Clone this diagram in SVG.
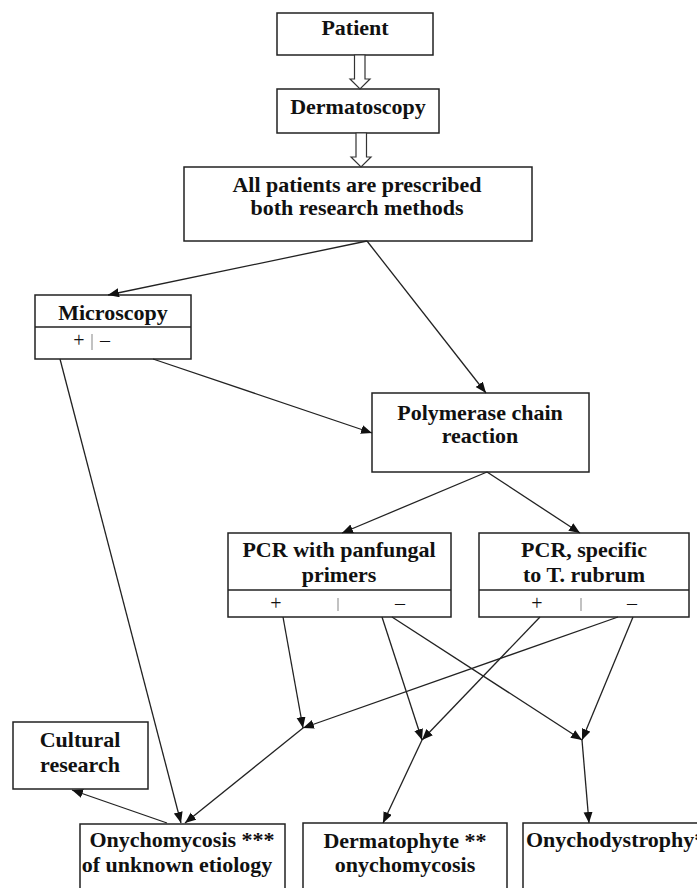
<svg xmlns="http://www.w3.org/2000/svg" width="697" height="888" viewBox="0 0 697 888">
<style>
.box{fill:#fff;stroke:#222;stroke-width:1.5}
.t{font-family:"Liberation Serif","Times New Roman",serif;font-weight:bold;font-size:22px;fill:#111;text-anchor:middle}
.s{font-family:"Liberation Serif","Times New Roman",serif;font-size:20px;fill:#111;text-anchor:middle}
.bar{stroke:#999;stroke-width:1.2}
.c{stroke:#222;stroke-width:1.3;fill:none;marker-end:url(#ah)}
.hollow{fill:#fff;stroke:#333;stroke-width:1.2}
</style>
<defs>
<marker id="ah" markerUnits="userSpaceOnUse" markerWidth="12" markerHeight="10" refX="11" refY="4.5" orient="auto">
<path d="M0,0 L11,4.5 L0,9 z" fill="#111"/>
</marker>
</defs>
<rect width="697" height="888" fill="#fff"/>

<g id="patient">
<rect class="box" x="277" y="13" width="156" height="42"/>
<text class="t" x="355" y="35">Patient</text>
</g>
<g id="dermatoscopy">
<rect class="box" x="277" y="89" width="162" height="44"/>
<text class="t" x="358" y="114">Dermatoscopy</text>
</g>
<g id="all-patients">
<rect class="box" x="184" y="167" width="348" height="74"/>
<text class="t" x="357" y="192">All patients are prescribed</text>
<text class="t" x="357" y="215">both research methods</text>
</g>
<g id="microscopy">
<rect class="box" x="35" y="295" width="156" height="64"/>
<line x1="35" y1="327" x2="191" y2="327" stroke="#222" stroke-width="1.5"/>
<text class="t" x="113" y="320">Microscopy</text>
<text class="s" x="79" y="347">+</text>
<line class="bar" x1="92" y1="334" x2="92" y2="350"/>
<text class="s" x="105" y="347">–</text>
</g>
<g id="pcr">
<rect class="box" x="372" y="393" width="217" height="79"/>
<text class="t" x="480" y="420">Polymerase chain</text>
<text class="t" x="480" y="443">reaction</text>
</g>
<g id="pcr-panfungal">
<rect class="box" x="228" y="533" width="223" height="84"/>
<line x1="228" y1="590" x2="451" y2="590" stroke="#222" stroke-width="1.5"/>
<text class="t" x="339" y="557">PCR with panfungal</text>
<text class="t" x="339" y="582">primers</text>
<text class="s" x="276" y="610">+</text>
<line class="bar" x1="338" y1="598" x2="338" y2="611"/>
<text class="s" x="400" y="610">–</text>
</g>
<g id="pcr-rubrum">
<rect class="box" x="479" y="533" width="210" height="84"/>
<line x1="479" y1="590" x2="689" y2="590" stroke="#222" stroke-width="1.5"/>
<text class="t" x="584" y="557">PCR, specific</text>
<text class="t" x="584" y="582">to T. rubrum</text>
<text class="s" x="537" y="610">+</text>
<line class="bar" x1="581" y1="598" x2="581" y2="611"/>
<text class="s" x="632" y="610">–</text>
</g>
<g id="cultural">
<rect class="box" x="13" y="722" width="135" height="67"/>
<text class="t" x="80" y="747">Cultural</text>
<text class="t" x="80" y="772">research</text>
</g>
<g id="onychomycosis">
<rect class="box" x="80" y="824" width="205" height="80"/>
<text class="t" x="182" y="847">Onychomycosis ***</text>
<text class="t" x="177" y="872">of unknown etiology</text>
</g>
<g id="dermatophyte">
<rect class="box" x="303" y="823" width="204" height="80"/>
<text class="t" x="405" y="848">Dermatophyte **</text>
<text class="t" x="405" y="872">onychomycosis</text>
</g>
<g id="onychodystrophy">
<rect class="box" x="523" y="823" width="200" height="80"/>
<text class="t" x="526" y="847" style="text-anchor:start">Onychodystrophy*</text>
</g>

<g id="connectors">
<polygon class="hollow" points="354.5,55 365,55 365,79 370,79 360,89 350,79 354.5,79"/>
<polygon class="hollow" points="356,133 366.5,133 366.5,157 371,157 361,167 351,157 356,157"/>
<line class="c" x1="367" y1="241" x2="108" y2="295"/>
<line class="c" x1="367" y1="241" x2="486" y2="393"/>
<line class="c" x1="60" y1="359" x2="181" y2="823"/>
<line class="c" x1="153" y1="359" x2="372" y2="433"/>
<line class="c" x1="487" y1="472" x2="342" y2="533"/>
<line class="c" x1="487" y1="472" x2="580" y2="533"/>
<line class="c" x1="283" y1="617" x2="303" y2="728"/>
<line class="c" x1="618" y1="617" x2="303" y2="728"/>
<line class="c" x1="382" y1="617" x2="422" y2="740"/>
<line class="c" x1="540" y1="617" x2="422" y2="740"/>
<line class="c" x1="392" y1="617" x2="582" y2="740"/>
<line class="c" x1="633" y1="617" x2="582" y2="740"/>
<line class="c" x1="303" y1="728" x2="185" y2="823"/>
<line class="c" x1="422" y1="740" x2="383" y2="823"/>
<line class="c" x1="582" y1="740" x2="589" y2="823"/>
<line class="c" x1="167" y1="823" x2="72" y2="790"/>
</g>
</svg>
